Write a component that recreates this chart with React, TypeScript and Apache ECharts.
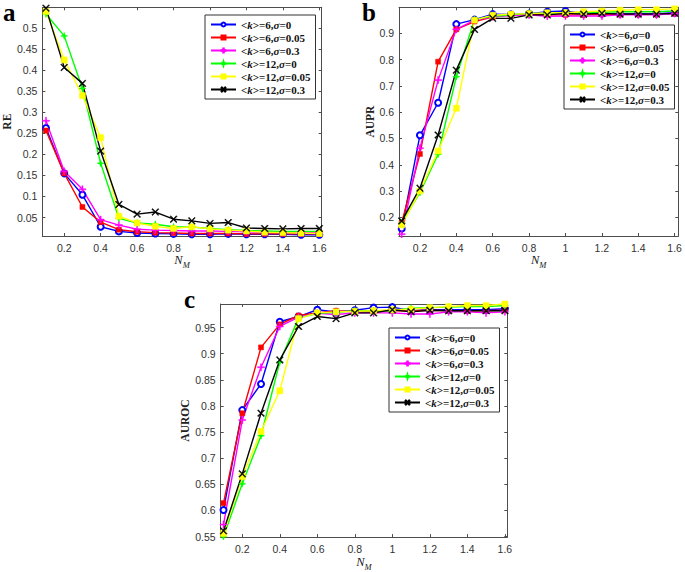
import React, { useEffect, useRef } from 'react';
import * as echarts from 'echarts';

const NM = [0.1, 0.2, 0.3, 0.4, 0.5, 0.6, 0.7, 0.8, 0.9, 1.0, 1.1, 1.2, 1.3, 1.4, 1.5, 1.6];
const seriesNames = ['<k>=6,σ=0', '<k>=6,σ=0.05', '<k>=6,σ=0.3', '<k>=12,σ=0', '<k>=12,σ=0.05', '<k>=12,σ=0.3'];
const seriesColors = ['#0000FF', '#FF0000', '#FF00FF', '#00FF00', '#FFFF00', '#000000'];

// Panel a: RE
const RE_k6_s0 = [0.263, 0.155, 0.104, 0.028, 0.017, 0.013, 0.012, 0.011, 0.010, 0.010, 0.011, 0.010, 0.010, 0.010, 0.009, 0.009];
const RE_k6_s005 = [0.257, 0.155, 0.075, 0.039, 0.021, 0.016, 0.014, 0.013, 0.012, 0.012, 0.012, 0.011, 0.011, 0.011, 0.011, 0.011];
const RE_k6_s03 = [0.280, 0.160, 0.117, 0.045, 0.032, 0.022, 0.020, 0.019, 0.018, 0.018, 0.017, 0.016, 0.015, 0.015, 0.015, 0.015];
const RE_k12_s0 = [0.534, 0.482, 0.357, 0.179, 0.048, 0.037, 0.034, 0.028, 0.027, 0.024, 0.021, 0.019, 0.018, 0.017, 0.017, 0.017];
const RE_k12_s005 = [0.540, 0.425, 0.340, 0.240, 0.053, 0.037, 0.029, 0.024, 0.028, 0.023, 0.020, 0.018, 0.015, 0.014, 0.013, 0.012];
const RE_k12_s03 = [0.548, 0.407, 0.369, 0.208, 0.081, 0.058, 0.063, 0.046, 0.042, 0.036, 0.038, 0.025, 0.024, 0.023, 0.024, 0.024];

// Panel b: AUPR
const AUPR_k6_s0 = [0.157, 0.512, 0.636, 0.935, 0.952, 0.973, 0.972, 0.975, 0.982, 0.985, 0.975, 0.975, 0.975, 0.975, 0.975, 0.978];
const AUPR_k6_s005 = [0.180, 0.441, 0.792, 0.915, 0.945, 0.962, 0.970, 0.972, 0.970, 0.970, 0.970, 0.972, 0.972, 0.972, 0.972, 0.975];
const AUPR_k6_s03 = [0.136, 0.463, 0.722, 0.915, 0.950, 0.963, 0.968, 0.970, 0.965, 0.966, 0.966, 0.966, 0.970, 0.970, 0.970, 0.975];
const AUPR_k12_s0 = [0.180, 0.294, 0.440, 0.735, 0.953, 0.965, 0.970, 0.976, 0.976, 0.978, 0.978, 0.980, 0.982, 0.982, 0.982, 0.985];
const AUPR_k12_s005 = [0.171, 0.300, 0.452, 0.615, 0.950, 0.969, 0.973, 0.975, 0.978, 0.978, 0.982, 0.985, 0.988, 0.990, 0.990, 0.993];
const AUPR_k12_s03 = [0.186, 0.311, 0.513, 0.760, 0.915, 0.957, 0.957, 0.970, 0.970, 0.976, 0.973, 0.976, 0.973, 0.973, 0.973, 0.976];

// Panel c: AUROC
const AUROC_k6_s0 = [0.601, 0.792, 0.842, 0.961, 0.971, 0.984, 0.980, 0.983, 0.988, 0.989, 0.982, 0.984, 0.984, 0.984, 0.984, 0.986];
const AUROC_k6_s005 = [0.614, 0.786, 0.912, 0.956, 0.973, 0.978, 0.982, 0.980, 0.982, 0.982, 0.982, 0.983, 0.982, 0.982, 0.982, 0.983];
const AUROC_k6_s03 = [0.573, 0.773, 0.874, 0.952, 0.970, 0.977, 0.975, 0.978, 0.978, 0.978, 0.976, 0.976, 0.980, 0.980, 0.978, 0.980];
const AUROC_k12_s0 = [0.550, 0.651, 0.743, 0.884, 0.968, 0.977, 0.979, 0.982, 0.982, 0.982, 0.987, 0.988, 0.989, 0.990, 0.990, 0.992];
const AUROC_k12_s005 = [0.556, 0.665, 0.751, 0.829, 0.967, 0.978, 0.980, 0.981, 0.982, 0.984, 0.985, 0.988, 0.990, 0.992, 0.992, 0.995];
const AUROC_k12_s03 = [0.561, 0.670, 0.786, 0.888, 0.952, 0.971, 0.967, 0.978, 0.978, 0.984, 0.980, 0.983, 0.982, 0.982, 0.982, 0.982];

const xTicks = [0.2, 0.4, 0.6, 0.8, 1, 1.2, 1.4, 1.6];
const reTicks = [0.05, 0.1, 0.15, 0.2, 0.25, 0.3, 0.35, 0.4, 0.45, 0.5];
const auprTicks = [0.2, 0.3, 0.4, 0.5, 0.6, 0.7, 0.8, 0.9];
const aurocTicks = [0.55, 0.6, 0.65, 0.7, 0.75, 0.8, 0.85, 0.9, 0.95];

const symbols = [
  'emptyCircle',
  'rect',
  'path://M-0.15,-1H0.15V-0.15H1V0.15H0.15V1H-0.15V0.15H-1V-0.15H-0.15Z',
  'path://M0,-1L0.25,-0.25L1,0L0.25,0.25L0,1L-0.25,0.25L-1,0L-0.25,-0.25Z',
  'rect',
  'path://M-1,-0.8L-0.8,-1L0,-0.2L0.8,-1L1,-0.8L0.2,0L1,0.8L0.8,1L0,0.2L-0.8,1L-1,0.8L-0.2,0Z',
];
const symbolSizes = [6, 5, 7, 7, 6, 7];

const FONT_SANS = '"Liberation Sans", Arial, Helvetica, sans-serif';
const FONT_SERIF = '"Liberation Serif", "Times New Roman", serif';

export default function App() {
  const ref = useRef<HTMLDivElement>(null);
  useEffect(() => {
    if (!ref.current) return;
    const chart = echarts.init(ref.current, undefined, { renderer: 'svg' });

    const panels = [
      { grid: { left: 40.7, top: 7.3, width: 281, height: 228.7 }, xmin: 0.08, xmax: 1.613, ymin: 0.006, ymax: 0.55, yTicks: reTicks, yName: 'RE', data: [RE_k6_s0, RE_k6_s005, RE_k6_s03, RE_k12_s0, RE_k12_s005, RE_k12_s03] },
      { grid: { left: 399, top: 7.3, width: 279.3, height: 228.7 }, xmin: 0.085, xmax: 1.62, ymin: 0.129, ymax: 0.999, yTicks: auprTicks, yName: 'AUPR', data: [AUPR_k6_s0, AUPR_k6_s005, AUPR_k6_s03, AUPR_k12_s0, AUPR_k12_s005, AUPR_k12_s03] },
      { grid: { left: 220.7, top: 304, width: 286.6, height: 233.3 }, xmin: 0.085, xmax: 1.613, ymin: 0.549, ymax: 0.995, yTicks: aurocTicks, yName: 'AUROC', data: [AUROC_k6_s0, AUROC_k6_s005, AUROC_k6_s03, AUROC_k12_s0, AUROC_k12_s005, AUROC_k12_s03] },
    ];

    const axisLineColor = '#4d4d4d';
    const grids: any[] = [];
    const xAxes: any[] = [];
    const yAxes: any[] = [];
    const series: any[] = [];

    panels.forEach((p, pi) => {
      grids.push({ ...p.grid, show: false, containLabel: false });
      const common = {
        type: 'value',
        gridIndex: pi,
        splitLine: { show: false },
        axisLine: { show: true, onZero: false, lineStyle: { color: axisLineColor, width: 1 } },
      };
      xAxes.push({
        ...common,
        position: 'bottom',
        min: p.xmin,
        max: p.xmax,
        axisTick: { show: true, inside: true, length: 3, customValues: xTicks, lineStyle: { color: axisLineColor } },
        axisLabel: { show: true, customValues: xTicks, color: '#333', fontSize: 10.5, fontFamily: FONT_SANS, margin: 6 },
        name: '{n|N}{s|M}',
        nameLocation: 'middle',
        nameGap: 14,
        nameTextStyle: {
          rich: {
            n: { fontFamily: FONT_SERIF, fontStyle: 'italic', fontSize: 12.5, color: '#222', lineHeight: 16, verticalAlign: 'top' },
            s: { fontFamily: FONT_SERIF, fontStyle: 'italic', fontSize: 8.5, color: '#222', lineHeight: 16, verticalAlign: 'bottom', padding: [5, 0, 0, 0] },
          },
        },
      });
      xAxes.push({
        ...common,
        position: 'top',
        min: p.xmin,
        max: p.xmax,
        axisTick: { show: true, inside: true, length: 3, customValues: xTicks, lineStyle: { color: axisLineColor } },
        axisLabel: { show: false },
      });
      yAxes.push({
        ...common,
        position: 'left',
        min: p.ymin,
        max: p.ymax,
        axisTick: { show: true, inside: true, length: 3, customValues: p.yTicks, lineStyle: { color: axisLineColor } },
        axisLabel: { show: true, customValues: p.yTicks, color: '#333', fontSize: 10.5, fontFamily: FONT_SANS, margin: 5 },
        name: p.yName,
        nameLocation: 'middle',
        nameGap: 23,
        nameTextStyle: { fontFamily: FONT_SERIF, fontWeight: 'bold', fontSize: 11.5, color: '#222' },
      });
      yAxes.push({
        ...common,
        position: 'right',
        min: p.ymin,
        max: p.ymax,
        axisTick: { show: true, inside: true, length: 3, customValues: p.yTicks, lineStyle: { color: axisLineColor } },
        axisLabel: { show: false },
      });

      p.data.forEach((vals, si) => {
        series.push({
          type: 'line',
          name: seriesNames[si],
          xAxisIndex: pi * 2,
          yAxisIndex: pi * 2,
          data: NM.map((x, i) => [x, vals[i]]),
          symbol: symbols[si],
          symbolSize: symbolSizes[si],
          showSymbol: true,
          lineStyle: { color: seriesColors[si], width: 1.4 },
          itemStyle: { color: seriesColors[si], borderColor: seriesColors[si], borderWidth: si === 0 ? 1.3 : 0.5 },
          emphasis: { disabled: true },
          clip: false,
        });
      });
    });

    const legendBase = {
      orient: 'vertical',
      data: seriesNames,
      backgroundColor: '#fff',
      borderColor: '#333',
      borderWidth: 1,
      borderRadius: 0,
      padding: [3, 5, 3, 5],
      itemGap: 0,
      itemWidth: 25,
      itemHeight: 5,
      selectedMode: false,
      formatter: (name: string) => name.replace('k', '{i|k}').replace('σ', '{i|σ}'),
      textStyle: {
        fontFamily: FONT_SERIF,
        fontWeight: 'bold',
        fontSize: 11,
        lineHeight: 13,
        color: '#111',
        rich: {
          i: { fontFamily: FONT_SERIF, fontWeight: 'bold', fontStyle: 'italic', fontSize: 11, lineHeight: 13, color: '#111' },
        },
      },
    };

    const option: any = {
      animation: false,
      backgroundColor: '#fff',
      grid: grids,
      xAxis: xAxes,
      yAxis: yAxes,
      series,
      legend: [
        { ...legendBase, left: 205, top: 15 },
        { ...legendBase, left: 564, top: 25 },
        { ...legendBase, left: 389, top: 328 },
      ],
      graphic: [
        { type: 'text', left: 3, top: 0, style: { text: 'a', font: `bold 25px ${FONT_SERIF}`, fill: '#000' } },
        { type: 'text', left: 362, top: 0, style: { text: 'b', font: `bold 25px ${FONT_SERIF}`, fill: '#000' } },
        { type: 'text', left: 184, top: 287, style: { text: 'c', font: `bold 25px ${FONT_SERIF}`, fill: '#000' } },
      ],
    };
    chart.setOption(option);
    return () => chart.dispose();
  }, []);
  return (
    <div
      ref={ref}
      style={{ position: 'fixed', left: 0, top: 0, width: 685, height: 572, background: '#fff' }}
    />
  );
}
